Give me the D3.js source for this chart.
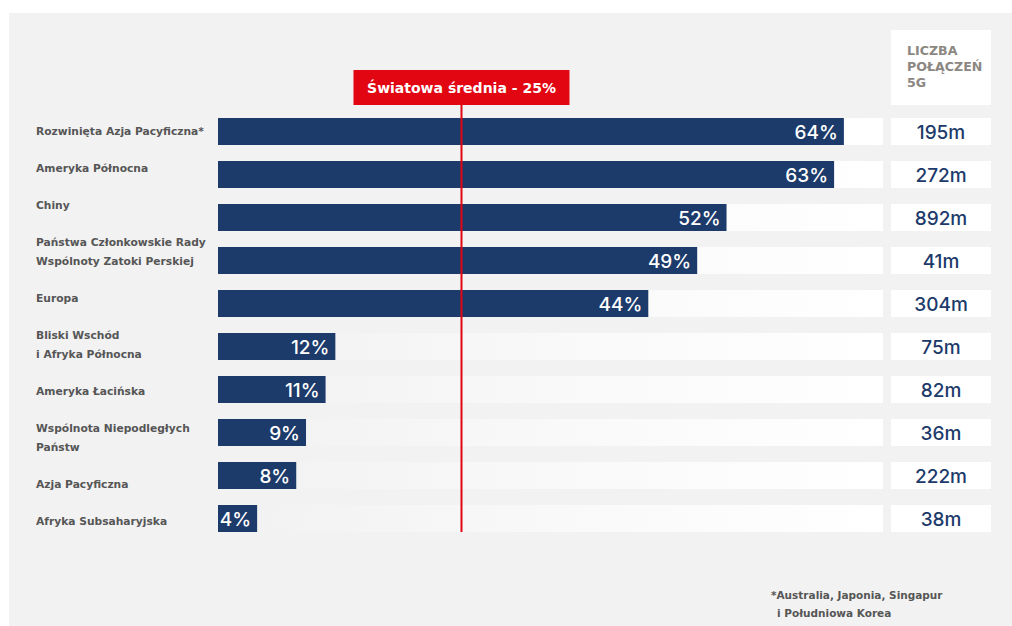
<!DOCTYPE html>
<html>
<head>
<meta charset="utf-8">
<script src="https://cdn.jsdelivr.net/npm/d3@7"></script>
<style>
  html, body { margin: 0; padding: 0; background: #ffffff; }
  svg { display: block; }
</style>
</head>
<body>
<svg id="chart" width="1012" height="626"></svg>
<script>
// Regions, their 5G adoption share (%) and 5G connection counts
const regions = [
  "Rozwinięta Azja Pacyficzna*",
  "Ameryka Północna",
  "Chiny",
  "Państwa Członkowskie Rady|Wspólnoty Zatoki Perskiej",
  "Europa",
  "Bliski Wschód|i Afryka Północna",
  "Ameryka Łacińska",
  "Wspólnota Niepodległych|Państw",
  "Azja Pacyficzna",
  "Afryka Subsaharyjska"
];
const adoption = [64, 63, 52, 49, 44, 12, 11, 9, 8, 4];
const connections = ["195m", "272m", "892m", "41m", "304m", "75m", "82m", "36m", "222m", "38m"];
const globalAverage = 25;
const averageLabel = "Światowa średnia - 25%";
const columnHeader = ["LICZBA", "POŁĄCZEŃ", "5G"];
const footnote = ["*Australia, Japonia, Singapur", "i Południowa Korea"];

const NAVY = "#1c3a6a";
const RED = "#e20613";
const LABEL = "#565656";
const labelFont = "'DejaVu Sans', Verdana, sans-serif";
const numFont = "Inter, 'Open Sans', sans-serif";

const svg = d3.select("#chart");

// Panel background
svg.append("rect")
  .attr("x", 9).attr("y", 13).attr("width", 1003).attr("height", 613)
  .attr("fill", "#f2f2f2");

// Track gradient behind each bar
const defs = svg.append("defs");
const grad = defs.append("linearGradient").attr("id", "track")
  .attr("x1", "0%").attr("x2", "100%").attr("y1", "0%").attr("y2", "0%");
grad.append("stop").attr("offset", "0%").attr("stop-color", "#f1f1f1");
grad.append("stop").attr("offset", "45%").attr("stop-color", "#f8f8f8");
grad.append("stop").attr("offset", "100%").attr("stop-color", "#ffffff");

const x = d3.scaleLinear().domain([0, 68]).range([218, 883]);
const y = d3.scaleBand()
  .domain(regions)
  .range([118, 532])
  .paddingInner(16 / 43)
  .paddingOuter(0);

const rows = regions.map((r, i) => ({ region: r, value: adoption[i], conn: connections[i] }));

// Tracks
svg.append("g").selectAll("rect").data(rows).join("rect")
  .attr("x", x(0))
  .attr("y", d => y(d.region))
  .attr("width", x.range()[1] - x(0))
  .attr("height", y.bandwidth())
  .attr("fill", "url(#track)");

// Bars
svg.append("g").selectAll("rect").data(rows).join("rect")
  .attr("x", x(0))
  .attr("y", d => y(d.region))
  .attr("width", d => x(d.value) - x(0))
  .attr("height", y.bandwidth())
  .attr("fill", NAVY);

// Percentage labels inside bars
svg.append("g").selectAll("text").data(rows).join("text")
  .attr("x", d => x(d.value) - 6)
  .attr("y", d => y(d.region) + y.bandwidth() / 2 + 7)
  .attr("text-anchor", "end")
  .attr("font-family", numFont)
  .attr("font-weight", 500)
  .attr("font-size", 19)
  .attr("fill", "#ffffff")
  .text(d => d.value + "%");

// Right column: connection counts
const colX = 891, colW = 100;
svg.append("g").selectAll("rect").data(rows).join("rect")
  .attr("x", colX)
  .attr("y", d => y(d.region))
  .attr("width", colW)
  .attr("height", y.bandwidth())
  .attr("fill", "#ffffff");

svg.append("g").selectAll("text").data(rows).join("text")
  .attr("x", colX + colW / 2)
  .attr("y", d => y(d.region) + y.bandwidth() / 2 + 7)
  .attr("text-anchor", "middle")
  .attr("font-family", numFont)
  .attr("font-weight", 500)
  .attr("font-size", 19)
  .attr("fill", NAVY)
  .text(d => d.conn);

// Column header
svg.append("rect")
  .attr("x", colX).attr("y", 30).attr("width", colW).attr("height", 75)
  .attr("fill", "#ffffff");
svg.append("text")
  .attr("font-family", labelFont)
  .attr("font-weight", "bold")
  .attr("font-size", 12.6)
  .attr("fill", "#8c8782")
  .selectAll("tspan").data(columnHeader).join("tspan")
  .attr("x", 907)
  .attr("y", (d, i) => 55 + i * 16)
  .text(d => d);

// Region labels, flowed down the left column
const labelG = svg.append("g")
  .attr("font-family", labelFont)
  .attr("font-weight", "bold")
  .attr("font-size", 10.7)
  .attr("fill", LABEL);
let baseline = 135;
rows.forEach(d => {
  const lines = d.region.split("|");
  const t = labelG.append("text");
  lines.forEach((ln, j) => {
    t.append("tspan").attr("x", 36).attr("y", baseline + j * 19).text(ln);
  });
  baseline += 37 + (lines.length - 1) * 19;
});

// Global average marker
const avgX = x(globalAverage) - 1;
svg.append("line")
  .attr("x1", avgX).attr("x2", avgX)
  .attr("y1", 105).attr("y2", y.range()[1])
  .attr("stroke", RED).attr("stroke-width", 2);
svg.append("rect")
  .attr("x", avgX - 108).attr("y", 70).attr("width", 216).attr("height", 35)
  .attr("fill", RED);
svg.append("text")
  .attr("x", avgX).attr("y", 93)
  .attr("text-anchor", "middle")
  .attr("font-family", labelFont)
  .attr("font-weight", "bold")
  .attr("font-size", 14)
  .attr("fill", "#ffffff")
  .text(averageLabel);

// Footnote
svg.append("text")
  .attr("font-family", labelFont)
  .attr("font-weight", "bold")
  .attr("font-size", 10.5)
  .attr("fill", LABEL)
  .selectAll("tspan").data(footnote).join("tspan")
  .attr("x", (d, i) => i === 0 ? 771 : 777)
  .attr("y", (d, i) => 599 + i * 18)
  .text(d => d);
</script>
</body>
</html>
